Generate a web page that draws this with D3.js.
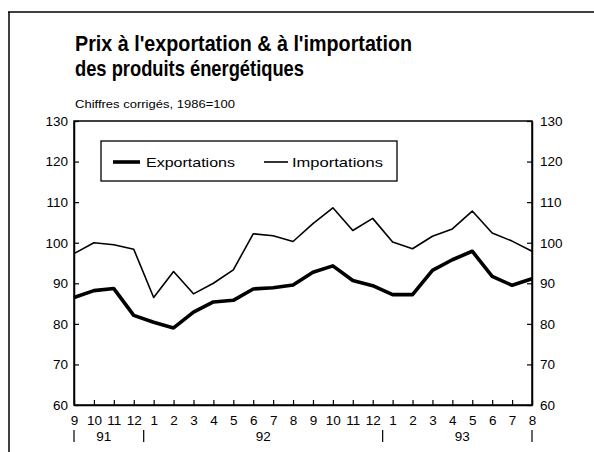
<!DOCTYPE html>
<html>
<head>
<meta charset="utf-8">
<script src="https://cdn.jsdelivr.net/npm/d3@7"></script>
<style>
  body { margin: 0; background: #fff; }
  text { font-family: "Liberation Sans", Arial, sans-serif; fill: #000; }
</style>
</head>
<body>
<div id="chart"></div>
<script>
// months from sept. 1991 to aug. 1993
var months = [9, 10, 11, 12, 1, 2, 3, 4, 5, 6, 7, 8, 9, 10, 11, 12, 1, 2, 3, 4, 5, 6, 7, 8];
var years = ["91", "92", "93"];
var yearStart = [0, 4, 16];
var yearEnd = [3, 15, 23];
var yearSep = [0, 3.5, 15.5, 23];

var exportations = [86.5, 88.2, 88.7, 82.1, 80.4, 79.0, 82.9, 85.4, 85.8, 88.6, 88.9, 89.6,
                    92.7, 94.3, 90.7, 89.4, 87.2, 87.2, 93.2, 95.8, 97.9, 91.7, 89.5, 91.1];
var importations = [97.3, 100.0, 99.5, 98.4, 86.5, 92.9, 87.4, 90.0, 93.3, 102.2, 101.7, 100.3,
                    104.7, 108.6, 103.0, 106.0, 100.2, 98.5, 101.6, 103.4, 107.8, 102.4, 100.4, 97.9];
var yTicks = [60, 70, 80, 90, 100, 110, 120, 130];

var width = 594, height = 452;
var plotLeft = 74, plotRight = 532, plotTop = 121, plotBottom = 405;

var svg = d3.select("#chart").append("svg")
    .attr("width", width)
    .attr("height", height);

// frame of the page
svg.append("line").attr("x1", 8).attr("x2", 594).attr("y1", 12).attr("y2", 12)
    .attr("stroke", "#000").attr("stroke-width", 1.5);
svg.append("line").attr("x1", 9).attr("x2", 9).attr("y1", 12).attr("y2", 452)
    .attr("stroke", "#000").attr("stroke-width", 1.5);

// titles
svg.append("text").attr("x", 75).attr("y", 51)
    .attr("font-size", 22).attr("font-weight", "bold")
    .attr("textLength", 337).attr("lengthAdjust", "spacingAndGlyphs")
    .text("Prix à l'exportation & à l'importation");
svg.append("text").attr("x", 75).attr("y", 76)
    .attr("font-size", 22).attr("font-weight", "bold")
    .attr("textLength", 229).attr("lengthAdjust", "spacingAndGlyphs")
    .text("des produits énergétiques");
svg.append("text").attr("x", 75).attr("y", 108)
    .attr("font-size", 11)
    .attr("textLength", 160).attr("lengthAdjust", "spacingAndGlyphs")
    .text("Chiffres corrigés, 1986=100");

var x = d3.scaleLinear().domain([0, months.length - 1]).range([plotLeft, plotRight]);
var y = d3.scaleLinear().domain([60, 130]).range([plotBottom, plotTop]);

// box
svg.append("rect").attr("x", plotLeft).attr("y", plotTop)
    .attr("width", plotRight - plotLeft).attr("height", plotBottom - plotTop)
    .attr("fill", "none").attr("stroke", "#000").attr("stroke-width", 1.5);

var yLeft = svg.append("g").attr("transform", "translate(" + plotLeft + ",0)")
    .call(d3.axisLeft(y).tickValues(yTicks).tickSizeInner(-5).tickSizeOuter(0).tickPadding(6));
var yRight = svg.append("g").attr("transform", "translate(" + plotRight + ",0)")
    .call(d3.axisRight(y).tickValues(yTicks).tickSizeInner(-5).tickSizeOuter(0).tickPadding(8));
var xAxis = svg.append("g").attr("transform", "translate(0," + plotBottom + ")")
    .call(d3.axisBottom(x).tickValues(d3.range(months.length))
        .tickFormat(function (d) { return months[d]; })
        .tickSizeInner(-5).tickSizeOuter(0).tickPadding(10));

[yLeft, yRight, xAxis].forEach(function (g) {
    g.select(".domain").attr("stroke-width", 1.5);
    g.selectAll(".tick line").attr("stroke-width", 1.2);
    g.selectAll(".tick text").attr("font-size", 13.5)
        .style("font-family", "'Liberation Sans', Arial, sans-serif");
});

// years under the months
svg.append("g").selectAll("text")
    .data(years)
    .enter()
    .append("text")
    .attr("x", function (d, i) { return x((yearStart[i] + yearEnd[i]) / 2); })
    .attr("y", 441)
    .attr("text-anchor", "middle")
    .attr("font-size", 13.5)
    .text(function (d) { return d; });

svg.append("g").selectAll("line")
    .data(yearSep)
    .enter()
    .append("line")
    .attr("x1", function (d) { return x(d); })
    .attr("x2", function (d) { return x(d); })
    .attr("y1", 430).attr("y2", 442)
    .attr("stroke", "#000").attr("stroke-width", 1.2);

// series
var line = d3.line()
    .x(function (d, i) { return x(i); })
    .y(function (d) { return y(d); });

svg.append("path").datum(importations)
    .attr("d", line).attr("fill", "none")
    .attr("stroke", "#000").attr("stroke-width", 1.6)
    .attr("stroke-linejoin", "round");
svg.append("path").datum(exportations)
    .attr("d", line).attr("fill", "none")
    .attr("stroke", "#000").attr("stroke-width", 3.6)
    .attr("stroke-linejoin", "round");

// legend
var legend = svg.append("g");
legend.append("rect").attr("x", 101).attr("y", 141).attr("width", 296).attr("height", 40)
    .attr("fill", "#fff").attr("stroke", "#000").attr("stroke-width", 1.3);
legend.append("line").attr("x1", 113).attr("x2", 140).attr("y1", 162).attr("y2", 162)
    .attr("stroke", "#000").attr("stroke-width", 3.6);
legend.append("text").attr("x", 146).attr("y", 167).attr("font-size", 13)
    .attr("textLength", 89).attr("lengthAdjust", "spacingAndGlyphs")
    .text("Exportations");
legend.append("line").attr("x1", 264).attr("x2", 288).attr("y1", 162).attr("y2", 162)
    .attr("stroke", "#000").attr("stroke-width", 1.6);
legend.append("text").attr("x", 292).attr("y", 167).attr("font-size", 13)
    .attr("textLength", 91).attr("lengthAdjust", "spacingAndGlyphs")
    .text("Importations");
</script>
</body>
</html>
